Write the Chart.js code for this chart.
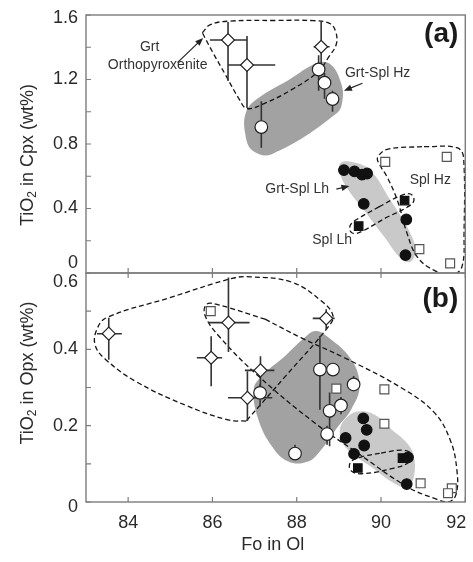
<!DOCTYPE html>
<html>
<head>
<meta charset="utf-8">
<script src="https://cdn.jsdelivr.net/npm/chart.js@4.4.1/dist/chart.umd.min.js"></script>
<style>
  html, body { margin: 0; padding: 0; background: #fff; }
</style>
</head>
<body>
<canvas id="chart" width="473" height="562"></canvas>
<script>
const FONT = '"Liberation Sans", Arial, Helvetica, sans-serif'
const INK = '#2a2a2a'

// axes
const X_TICKS = [84, 86, 88, 90, 92]
const YA_TICKS = [0, 0.2, 0.4, 0.6, 0.8, 1.0, 1.2, 1.4, 1.6]
const YA_LABELS = ['0', '0.4', '0.8', '1.2', '1.6']
const YB_TICKS = [0, 0.1, 0.2, 0.3, 0.4, 0.5, 0.6]
const YB_LABELS = ['0', '0.2', '0.4', '0.6']

// (a) TiO2 in Cpx vs Fo in Ol
const A_ORTHO = [ // Grt orthopyroxenite, with error bars
  { x: 86.37, y: 1.445, xl: 85.94, xh: 86.84, yl: 1.19, yh: 1.557 },
  { x: 86.82, y: 1.290, xl: 86.37, xh: 87.49, yl: 1.023, yh: 1.47 },
  { x: 88.58, y: 1.403, xl: 88.40, xh: 88.78, yl: 1.28, yh: 1.561 },
]
const A_HZ = [ // Grt-Spl harzburgite
  { x: 87.16, y: 0.905, yl: 0.777, yh: 1.065 },
  { x: 88.52, y: 1.262, yl: 1.13, yh: 1.35 },
  { x: 88.66, y: 1.180, yl: 1.08, yh: 1.24 },
  { x: 88.85, y: 1.079, yl: 1.0, yh: 1.13 },
]
const A_LH = [ // Grt-Spl lherzolite
  { x: 89.12, y: 0.638 }, { x: 89.37, y: 0.630 }, { x: 89.55, y: 0.610 },
  { x: 89.67, y: 0.617 }, { x: 89.59, y: 0.429 }, { x: 90.60, y: 0.332 },
  { x: 90.58, y: 0.111 },
]
const A_SPL_LH = [{ x: 90.56, y: 0.449 }, { x: 89.47, y: 0.291 }]
const A_SPL_HZ = [
  { x: 90.10, y: 0.689 }, { x: 91.56, y: 0.720 }, { x: 90.91, y: 0.148 }, { x: 91.64, y: 0.060 },
]

// (b) TiO2 in Opx vs Fo in Ol
const B_ORTHO = [
  { x: 83.54, y: 0.441, xl: 83.26, xh: 83.85, yl: 0.373, yh: 0.483 },
  { x: 86.38, y: 0.470, xl: 85.90, xh: 86.88, yl: 0.393, yh: 0.588 },
  { x: 85.97, y: 0.378, xl: 85.63, xh: 86.23, yl: 0.303, yh: 0.434 },
  { x: 87.14, y: 0.345, xl: 86.77, xh: 87.47, yl: 0.303, yh: 0.382 },
  { x: 86.83, y: 0.273, xl: 86.37, xh: 87.42, yl: 0.212, yh: 0.342 },
  { x: 88.70, y: 0.481, xl: 88.38, xh: 88.90, yl: 0.453, yh: 0.505 },
]
const B_HZ = [
  { x: 87.13, y: 0.286, yl: 0.25, yh: 0.31 },
  { x: 87.96, y: 0.127, yl: 0.11, yh: 0.15 },
  { x: 88.55, y: 0.347, yl: 0.242, yh: 0.435 },
  { x: 88.86, y: 0.347 },
  { x: 89.35, y: 0.308, yl: 0.29, yh: 0.33 },
  { x: 88.78, y: 0.239, yl: 0.146, yh: 0.287 },
  { x: 89.05, y: 0.253, yl: 0.23, yh: 0.275 },
  { x: 88.72, y: 0.178, yl: 0.15, yh: 0.20 },
]
const B_LH = [
  { x: 89.58, y: 0.219 }, { x: 89.66, y: 0.189 }, { x: 89.16, y: 0.168 },
  { x: 89.60, y: 0.148 }, { x: 89.36, y: 0.126 }, { x: 90.64, y: 0.117 },
  { x: 90.61, y: 0.047 },
]
const B_SPL_LH = [{ x: 90.51, y: 0.115 }, { x: 89.45, y: 0.089 }]
const B_SPL_HZ = [
  { x: 85.96, y: 0.500 }, { x: 88.94, y: 0.297 }, { x: 90.08, y: 0.295 }, { x: 90.08, y: 0.205 },
  { x: 90.94, y: 0.049 }, { x: 91.68, y: 0.036 }, { x: 91.59, y: 0.023 },
]

// field outlines, [Fo, TiO2]
const A_HZ_FIELD = [[87.8, 1.195], [88.51, 1.305], [88.82, 1.29], [89.05, 1.18], [89.09, 1.08], [88.95, 0.99],
  [87.41, 0.737], [86.95, 0.76], [86.78, 0.86], [86.80, 1.0], [87.09, 1.085]]
const A_LH_FIELD = [[90.23, 0.449], [90.62, 0.285], [90.82, 0.142], [90.70, 0.07], [90.47, 0.09], [90.08, 0.223],
  [89.6, 0.388], [89.21, 0.521], [89.02, 0.623], [89.05, 0.685], [89.37, 0.685], [89.76, 0.634]]
const A_ORTHO_FIELD = [[85.76, 1.49], [85.95, 1.54], [86.4, 1.562], [87.5, 1.566], [88.4, 1.565], [88.78, 1.548],
  [88.92, 1.50], [88.94, 1.42], [88.76, 1.34], [88.51, 1.249], [87.88, 1.137], [87.25, 1.054], [86.82, 1.02],
  [86.62, 1.085], [86.31, 1.229], [86.0, 1.372]]
const A_SPL_HZ_FIELD = [[91.02, 0.784], [91.80, 0.777], [91.96, 0.716], [91.97, 0.244], [91.92, 0.039],
  [91.68, -0.012], [91.25, 0.018], [90.86, 0.10], [90.62, 0.244], [90.39, 0.449], [90.15, 0.593],
  [89.96, 0.675], [89.92, 0.716], [90.15, 0.767]]
const A_SPL_LH_FIELD = [[89.95, 0.41], [90.47, 0.48], [90.70, 0.49], [90.78, 0.449], [90.62, 0.408], [90.1, 0.34],
  [89.6, 0.265], [89.37, 0.244], [89.27, 0.26], [89.28, 0.30], [89.45, 0.336]]

const B_HZ_FIELD = [[87.72, 0.382], [88.19, 0.431], [88.43, 0.448], [88.66, 0.439], [89.29, 0.374], [89.49, 0.303],
  [89.29, 0.242], [88.98, 0.198], [88.58, 0.137], [88.27, 0.106], [87.80, 0.106], [87.41, 0.146],
  [87.09, 0.216], [86.98, 0.295], [87.17, 0.33]]
const B_LH_FIELD = [[90.25, 0.19], [90.62, 0.154], [90.78, 0.119], [90.78, 0.067], [90.62, 0.040], [90.31, 0.049],
  [89.76, 0.093], [89.21, 0.137], [89.02, 0.185], [89.21, 0.224], [89.52, 0.238], [89.92, 0.224]]
const B_ORTHO_FIELD = [[86.80, 0.212], [86.37, 0.215], [85.35, 0.254], [84.18, 0.316], [83.47, 0.373], [83.22, 0.41],
  [83.25, 0.45], [83.49, 0.483], [84.98, 0.535], [86.47, 0.586], [86.9, 0.59], [87.88, 0.576], [88.58, 0.527],
  [88.86, 0.488], [88.72, 0.455], [87.76, 0.333]]
const B_SPL_HZ_FIELD = [[87.25, 0.479], [88.11, 0.43], [89.13, 0.378], [90.47, 0.300], [91.25, 0.236], [91.64, 0.163],
  [91.80, 0.084], [91.78, 0.02], [91.6, 0.0], [91.3, 0.008], [90.62, 0.040], [89.45, 0.128], [88.43, 0.207],
  [87.09, 0.33], [86.15, 0.435], [85.82, 0.49], [85.86, 0.518], [86.1, 0.518]]
const B_SPL_LH_FIELD = [[90.0, 0.128], [90.47, 0.136], [90.70, 0.128], [90.68, 0.106], [90.31, 0.089], [89.52, 0.074],
  [89.27, 0.084], [89.29, 0.106], [89.6, 0.12]]

// labels inside panel (a)
const NOTES_A = [
  { text: 'Grt', at: [84.51, 1.403] },
  { text: 'Orthopyroxenite', at: [84.70, 1.29] },
  { text: 'Grt-Spl Hz', at: [89.92, 1.239] },
  { text: 'Grt-Spl Lh', at: [88.01, 0.521] },
  { text: 'Spl Hz', at: [91.17, 0.577] },
  { text: 'Spl Lh', at: [88.84, 0.203] },
]
const ARROWS_A = [
  [[85.17, 1.305], [85.78, 1.458]],
  [[89.56, 1.177], [89.12, 1.130]],
  [[88.94, 0.52], [89.25, 0.54]],
]

function loop(arr) {
  const p = arr.map(([x, y]) => ({ x, y }))
  p.push({ ...p[0] })
  return p
}

function field(arr, color, yAxisID) {
  return {
    data: loop(arr), yAxisID, showLine: true, tension: 0.4,
    pointRadius: 0, pointHoverRadius: 0,
    borderColor: 'rgba(0,0,0,0)', borderWidth: 1,
    shapeFill: color, order: 30,
  }
}

function dashed(arr, yAxisID) {
  return {
    data: loop(arr), yAxisID, showLine: true, tension: 0.4,
    pointRadius: 0, pointHoverRadius: 0,
    borderColor: '#151515', borderWidth: 1.3, borderDash: [5, 3], order: 20,
  }
}

function marks(data, yAxisID, style, radius, fill, edge) {
  return {
    data, yAxisID, showLine: false,
    pointStyle: style, pointRadius: radius, pointHoverRadius: radius,
    backgroundColor: fill, borderColor: edge, borderWidth: 1.2, order: 5,
  }
}

const DARK = '#a2a2a2'
const LIGHT = '#c9c9c9'

const datasets = [
  field(A_HZ_FIELD, DARK, 'ya'),
  field(A_LH_FIELD, LIGHT, 'ya'),
  field(B_HZ_FIELD, DARK, 'yb'),
  field(B_LH_FIELD, LIGHT, 'yb'),
  dashed(A_ORTHO_FIELD, 'ya'),
  dashed(A_SPL_HZ_FIELD, 'ya'),
  dashed(A_SPL_LH_FIELD, 'ya'),
  dashed(B_ORTHO_FIELD, 'yb'),
  dashed(B_SPL_HZ_FIELD, 'yb'),
  dashed(B_SPL_LH_FIELD, 'yb'),
  { data: [], yAxisID: 'ya', bars: true, order: 15 },
  marks(A_ORTHO, 'ya', 'rectRot', 6.5, '#fff', '#222'),
  marks(A_HZ, 'ya', 'circle', 6.3, '#fff', '#222'),
  marks(A_LH, 'ya', 'circle', 5.3, '#111', '#111'),
  marks(A_SPL_HZ, 'ya', 'rect', 6.3, '#fff', '#555'),
  marks(A_SPL_LH, 'ya', 'rect', 6.0, '#111', '#111'),
  marks(B_ORTHO, 'yb', 'rectRot', 6.5, '#fff', '#222'),
  marks(B_HZ, 'yb', 'circle', 6.3, '#fff', '#222'),
  marks(B_LH, 'yb', 'circle', 5.3, '#111', '#111'),
  marks(B_SPL_HZ, 'yb', 'rect', 6.3, '#fff', '#555'),
  marks(B_SPL_LH, 'yb', 'rect', 6.0, '#111', '#111'),
]

function drawBars(chart, list, yId) {
  const ctx = chart.ctx
  const xs = chart.scales.x
  const ys = chart.scales[yId]
  ctx.beginPath()
  list.forEach(p => {
    const px = xs.getPixelForValue(p.x)
    const py = ys.getPixelForValue(p.y)
    if (p.yl != null) {
      ctx.moveTo(px, ys.getPixelForValue(p.yl))
      ctx.lineTo(px, ys.getPixelForValue(p.yh))
    }
    if (p.xl != null) {
      ctx.moveTo(xs.getPixelForValue(p.xl), py)
      ctx.lineTo(xs.getPixelForValue(p.xh), py)
    }
  })
  ctx.stroke()
}

function rotTitle(ctx, cx, cy, parts) {
  ctx.save()
  ctx.translate(cx, cy)
  ctx.rotate(-Math.PI / 2)
  let total = 0
  const sized = parts.map(t => {
    ctx.font = t.sub ? `12px ${FONT}` : `18px ${FONT}`
    const w = ctx.measureText(t.text).width
    total += w
    return { ...t, w }
  })
  let x = -total / 2
  ctx.textAlign = 'left'
  ctx.textBaseline = 'middle'
  ctx.fillStyle = INK
  sized.forEach(t => {
    ctx.font = t.sub ? `12px ${FONT}` : `18px ${FONT}`
    ctx.fillText(t.text, x, t.sub ? 5 : 0)
    x += t.w
  })
  ctx.restore()
}

function arrow(ctx, x0, y0, x1, y1) {
  const a = Math.atan2(y1 - y0, x1 - x0)
  ctx.beginPath()
  ctx.moveTo(x0, y0)
  ctx.lineTo(x1 - 5 * Math.cos(a), y1 - 5 * Math.sin(a))
  ctx.stroke()
  ctx.beginPath()
  ctx.moveTo(x1, y1)
  ctx.lineTo(x1 - 8 * Math.cos(a) + 3.2 * Math.sin(a), y1 - 8 * Math.sin(a) - 3.2 * Math.cos(a))
  ctx.lineTo(x1 - 8 * Math.cos(a) - 3.2 * Math.sin(a), y1 - 8 * Math.sin(a) + 3.2 * Math.cos(a))
  ctx.closePath()
  ctx.fill()
}

const decor = {
  id: 'decor',
  beforeDatasetDraw(chart, args) {
    const ds = chart.data.datasets[args.index]
    if (!ds.shapeFill) return
    const line = args.meta.dataset
    const ctx = chart.ctx
    line.updateControlPoints(chart.chartArea, 'x')
    ctx.save()
    ctx.beginPath()
    line.path(ctx)
    ctx.closePath()
    ctx.fillStyle = ds.shapeFill
    ctx.fill()
    ctx.restore()
  },
  afterDatasetDraw(chart, args) {
    if (!chart.data.datasets[args.index].bars) return
    const ctx = chart.ctx
    ctx.save()
    ctx.strokeStyle = '#333'
    ctx.lineWidth = 1.6
    drawBars(chart, A_ORTHO, 'ya')
    drawBars(chart, A_HZ, 'ya')
    drawBars(chart, B_ORTHO, 'yb')
    drawBars(chart, B_HZ, 'yb')
    ctx.restore()
  },
  afterDraw(chart) {
    const ctx = chart.ctx
    const xs = chart.scales.x
    const ya = chart.scales.ya
    const yb = chart.scales.yb
    const L = chart.chartArea.left
    const R = chart.chartArea.right
    ctx.save()

    // frames and inner ticks
    ctx.strokeStyle = '#7c7c7c'
    ctx.lineWidth = 1.4
    ctx.strokeRect(L, ya.top, R - L, ya.bottom - ya.top)
    ctx.strokeRect(L, yb.top, R - L, yb.bottom - yb.top)
    ctx.lineWidth = 1.2
    ctx.beginPath()
    YA_TICKS.forEach(v => { const y = ya.getPixelForValue(v); ctx.moveTo(L, y); ctx.lineTo(L + 5, y) })
    YB_TICKS.forEach(v => { const y = yb.getPixelForValue(v); ctx.moveTo(L, y); ctx.lineTo(L + 5, y) })
    X_TICKS.forEach(v => {
      const x = xs.getPixelForValue(v)
      ctx.moveTo(x, ya.bottom); ctx.lineTo(x, ya.bottom - 5)
      ctx.moveTo(x, yb.top); ctx.lineTo(x, yb.top + 5)
      ctx.moveTo(x, yb.bottom); ctx.lineTo(x, yb.bottom - 5)
    })
    ctx.stroke()

    // tick labels
    ctx.fillStyle = INK
    ctx.font = `18px ${FONT}`
    ctx.textAlign = 'right'
    ctx.textBaseline = 'middle'
    YA_LABELS.forEach(s => {
      const v = Number(s)
      const dy = v === ya.max ? 3 : v === ya.min ? -10 : 0
      ctx.fillText(s, L - 8, ya.getPixelForValue(v) + dy)
    })
    YB_LABELS.forEach(s => {
      const v = Number(s)
      const dy = v === yb.max ? 9 : v === yb.min ? 5 : 0
      ctx.fillText(s, L - 8, yb.getPixelForValue(v) + dy)
    })
    ctx.textAlign = 'center'
    X_TICKS.forEach((v, i) => {
      const dx = i === X_TICKS.length - 1 ? -9 : 0
      ctx.fillText(String(v), xs.getPixelForValue(v) + dx, yb.bottom + 21)
    })

    // axis titles
    ctx.fillText('Fo in Ol', (L + R) / 2 - 3, yb.bottom + 43)
    rotTitle(ctx, 28, ya.top + 140, [{ text: 'TiO' }, { text: '2', sub: true }, { text: ' in Cpx (wt%)' }])
    rotTitle(ctx, 28, yb.top + 100, [{ text: 'TiO' }, { text: '2', sub: true }, { text: ' in Opx (wt%)' }])

    // panel letters
    ctx.font = `bold 28px ${FONT}`
    ctx.textAlign = 'right'
    ctx.fillStyle = '#1a1a1a'
    ctx.fillText('(a)', R - 7, ya.top + 19)
    ctx.fillText('(b)', R - 7, yb.top + 26)

    // field names and arrows
    ctx.font = `14px ${FONT}`
    ctx.textAlign = 'center'
    ctx.fillStyle = '#333'
    NOTES_A.forEach(n => {
      ctx.fillText(n.text, xs.getPixelForValue(n.at[0]), ya.getPixelForValue(n.at[1]))
    })
    ctx.strokeStyle = '#222'
    ctx.fillStyle = '#222'
    ctx.lineWidth = 1.2
    ARROWS_A.forEach(([a, b]) => {
      arrow(ctx, xs.getPixelForValue(a[0]), ya.getPixelForValue(a[1]),
        xs.getPixelForValue(b[0]), ya.getPixelForValue(b[1]))
    })
    ctx.restore()
  },
}

new Chart(document.getElementById('chart'), {
  type: 'scatter',
  data: { datasets },
  options: {
    responsive: false,
    animation: false,
    events: [],
    layout: { padding: { left: 0, right: 4, top: 15, bottom: 0 } },
    plugins: { legend: { display: false }, tooltip: { enabled: false } },
    scales: {
      x: {
        type: 'linear', min: 83, max: 92,
        grid: { display: false }, border: { display: false },
        ticks: { display: false },
        afterFit: s => { s.height = 60 },
      },
      yb: {
        type: 'linear', position: 'left', stack: 'panels', stackWeight: 229,
        min: 0, max: 0.6,
        grid: { display: false }, border: { display: false },
        ticks: { display: false },
        afterFit: s => { s.width = 86 },
      },
      ya: {
        type: 'linear', position: 'left', stack: 'panels', stackWeight: 258,
        min: 0, max: 1.6,
        grid: { display: false }, border: { display: false },
        ticks: { display: false },
        afterFit: s => { s.width = 86 },
      },
    },
  },
  plugins: [decor],
})
</script>
</body>
</html>
